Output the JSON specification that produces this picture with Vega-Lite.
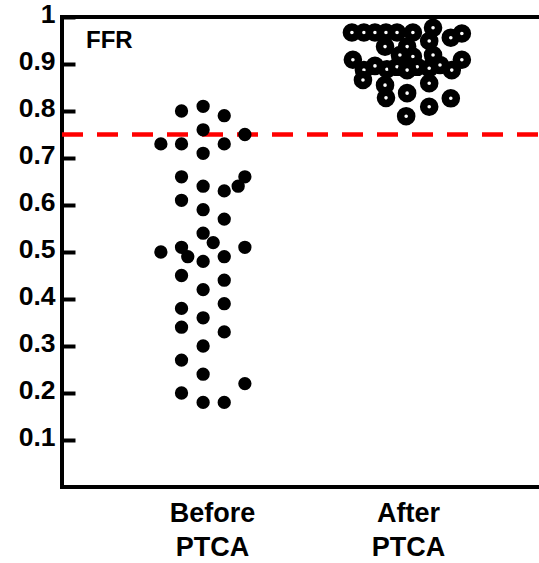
{
  "$schema": "https://vega.github.io/schema/vega-lite/v6.json",
  "width": 480,
  "height": 470,
  "autosize": {"type": "none"},
  "padding": {"left": 62, "top": 17, "right": 0, "bottom": 76},
  "background": "white",
  "config": {
    "view": {"stroke": "black", "strokeWidth": 4},
    "font": "Liberation Sans"
  },
  "datasets": {
    "points": [
      {"group": "Before PTCA", "pos": 2.49, "ffr": 0.80},
      {"group": "Before PTCA", "pos": 2.94, "ffr": 0.81},
      {"group": "Before PTCA", "pos": 3.38, "ffr": 0.79},
      {"group": "Before PTCA", "pos": 2.94, "ffr": 0.76},
      {"group": "Before PTCA", "pos": 3.81, "ffr": 0.75},
      {"group": "Before PTCA", "pos": 2.06, "ffr": 0.73},
      {"group": "Before PTCA", "pos": 2.49, "ffr": 0.73},
      {"group": "Before PTCA", "pos": 3.38, "ffr": 0.73},
      {"group": "Before PTCA", "pos": 2.94, "ffr": 0.71},
      {"group": "Before PTCA", "pos": 2.49, "ffr": 0.66},
      {"group": "Before PTCA", "pos": 3.81, "ffr": 0.66},
      {"group": "Before PTCA", "pos": 3.67, "ffr": 0.64},
      {"group": "Before PTCA", "pos": 2.94, "ffr": 0.64},
      {"group": "Before PTCA", "pos": 3.38, "ffr": 0.63},
      {"group": "Before PTCA", "pos": 2.49, "ffr": 0.61},
      {"group": "Before PTCA", "pos": 2.94, "ffr": 0.59},
      {"group": "Before PTCA", "pos": 3.38, "ffr": 0.57},
      {"group": "Before PTCA", "pos": 2.94, "ffr": 0.54},
      {"group": "Before PTCA", "pos": 3.15, "ffr": 0.52},
      {"group": "Before PTCA", "pos": 2.06, "ffr": 0.50},
      {"group": "Before PTCA", "pos": 2.49, "ffr": 0.51},
      {"group": "Before PTCA", "pos": 3.81, "ffr": 0.51},
      {"group": "Before PTCA", "pos": 2.62, "ffr": 0.49},
      {"group": "Before PTCA", "pos": 2.94, "ffr": 0.48},
      {"group": "Before PTCA", "pos": 3.38, "ffr": 0.49},
      {"group": "Before PTCA", "pos": 2.49, "ffr": 0.45},
      {"group": "Before PTCA", "pos": 3.38, "ffr": 0.44},
      {"group": "Before PTCA", "pos": 2.94, "ffr": 0.42},
      {"group": "Before PTCA", "pos": 3.38, "ffr": 0.39},
      {"group": "Before PTCA", "pos": 2.49, "ffr": 0.38},
      {"group": "Before PTCA", "pos": 2.94, "ffr": 0.36},
      {"group": "Before PTCA", "pos": 2.49, "ffr": 0.34},
      {"group": "Before PTCA", "pos": 3.38, "ffr": 0.33},
      {"group": "Before PTCA", "pos": 2.94, "ffr": 0.30},
      {"group": "Before PTCA", "pos": 2.49, "ffr": 0.27},
      {"group": "Before PTCA", "pos": 2.94, "ffr": 0.24},
      {"group": "Before PTCA", "pos": 3.81, "ffr": 0.22},
      {"group": "Before PTCA", "pos": 2.49, "ffr": 0.20},
      {"group": "Before PTCA", "pos": 2.94, "ffr": 0.18},
      {"group": "Before PTCA", "pos": 3.38, "ffr": 0.18},
      {"group": "After PTCA", "pos": 6.04, "ffr": 0.967},
      {"group": "After PTCA", "pos": 6.29, "ffr": 0.967},
      {"group": "After PTCA", "pos": 6.52, "ffr": 0.967},
      {"group": "After PTCA", "pos": 6.75, "ffr": 0.967},
      {"group": "After PTCA", "pos": 6.98, "ffr": 0.967},
      {"group": "After PTCA", "pos": 7.31, "ffr": 0.967},
      {"group": "After PTCA", "pos": 8.33, "ffr": 0.965},
      {"group": "After PTCA", "pos": 7.73, "ffr": 0.977},
      {"group": "After PTCA", "pos": 8.10, "ffr": 0.956},
      {"group": "After PTCA", "pos": 7.65, "ffr": 0.949},
      {"group": "After PTCA", "pos": 6.73, "ffr": 0.937},
      {"group": "After PTCA", "pos": 7.19, "ffr": 0.937},
      {"group": "After PTCA", "pos": 7.04, "ffr": 0.919},
      {"group": "After PTCA", "pos": 7.73, "ffr": 0.919},
      {"group": "After PTCA", "pos": 7.31, "ffr": 0.916},
      {"group": "After PTCA", "pos": 6.06, "ffr": 0.909},
      {"group": "After PTCA", "pos": 8.33, "ffr": 0.909},
      {"group": "After PTCA", "pos": 6.52, "ffr": 0.896},
      {"group": "After PTCA", "pos": 6.29, "ffr": 0.887},
      {"group": "After PTCA", "pos": 6.77, "ffr": 0.889},
      {"group": "After PTCA", "pos": 6.98, "ffr": 0.894},
      {"group": "After PTCA", "pos": 7.40, "ffr": 0.894},
      {"group": "After PTCA", "pos": 7.65, "ffr": 0.891},
      {"group": "After PTCA", "pos": 7.875, "ffr": 0.898},
      {"group": "After PTCA", "pos": 8.12, "ffr": 0.887},
      {"group": "After PTCA", "pos": 7.19, "ffr": 0.887},
      {"group": "After PTCA", "pos": 6.27, "ffr": 0.866},
      {"group": "After PTCA", "pos": 6.73, "ffr": 0.855},
      {"group": "After PTCA", "pos": 7.65, "ffr": 0.859},
      {"group": "After PTCA", "pos": 6.75, "ffr": 0.828},
      {"group": "After PTCA", "pos": 7.19, "ffr": 0.838},
      {"group": "After PTCA", "pos": 8.10, "ffr": 0.827},
      {"group": "After PTCA", "pos": 7.65, "ffr": 0.809},
      {"group": "After PTCA", "pos": 7.17, "ffr": 0.789}
    ],
    "threshold": [{"label": "FFR", "cutoff": 0.75}]
  },
  "layer": [
    {
      "data": {"name": "threshold"},
      "mark": {"type": "rule", "color": "#ff0000", "strokeWidth": 4.5, "strokeDash": [21, 14], "strokeDashOffset": 31},
      "encoding": {
        "y": {"field": "cutoff", "type": "quantitative", "scale": {"domain": [0, 1], "nice": false, "zero": true},
          "axis": {
            "title": null,
            "values": [0.1, 0.2, 0.3, 0.4, 0.5, 0.6, 0.7, 0.8, 0.9, 1],
            "format": "~g",
            "domain": false,
            "grid": false,
            "ticks": true,
            "tickSize": -13,
            "tickWidth": 4,
            "tickColor": "black",
            "labelPadding": 20,
            "labelOffset": -3,
            "labelFont": "Liberation Sans",
            "labelFontWeight": "bold",
            "labelFontSize": 26.5,
            "labelColor": "black",
            "labelFlush": false,
            "labelOverlap": false
          }
        }
      }
    },
    {
      "data": {"name": "points"},
      "transform": [{"filter": "datum.group === 'Before PTCA'"}],
      "mark": {"type": "point", "shape": "circle", "filled": true, "color": "black", "size": 177, "opacity": 1},
      "encoding": {
        "x": {"field": "pos", "type": "quantitative", "scale": {"domain": [0, 10], "nice": false, "zero": false},
          "axis": {
            "title": null,
            "values": [3.125, 7.21],
            "labelExpr": "datum.value < 5 ? ['Before', 'PTCA'] : ['After', 'PTCA']",
            "domain": false,
            "grid": false,
            "ticks": false,
            "labelPadding": 13,
            "labelLineHeight": 34,
            "labelFont": "Liberation Sans",
            "labelFontWeight": "bold",
            "labelFontSize": 27,
            "labelColor": "black",
            "labelFlush": false,
            "labelOverlap": false
          }
        },
        "y": {"field": "ffr", "type": "quantitative"}
      }
    },
    {
      "data": {"name": "points"},
      "transform": [{"filter": "datum.group === 'After PTCA'"}],
      "mark": {"type": "point", "shape": "circle", "filled": true, "fill": "white", "stroke": "black", "strokeWidth": 7.5, "size": 123, "opacity": 1},
      "encoding": {
        "x": {"field": "pos", "type": "quantitative"},
        "y": {"field": "ffr", "type": "quantitative"}
      }
    },
    {
      "data": {"name": "threshold"},
      "mark": {"type": "text", "align": "left", "baseline": "middle", "font": "Liberation Sans", "fontWeight": "bold", "fontSize": 24, "color": "black"},
      "encoding": {
        "text": {"field": "label"},
        "x": {"datum": 0.5, "type": "quantitative"},
        "y": {"datum": 0.95, "type": "quantitative"}
      }
    }
  ]
}
